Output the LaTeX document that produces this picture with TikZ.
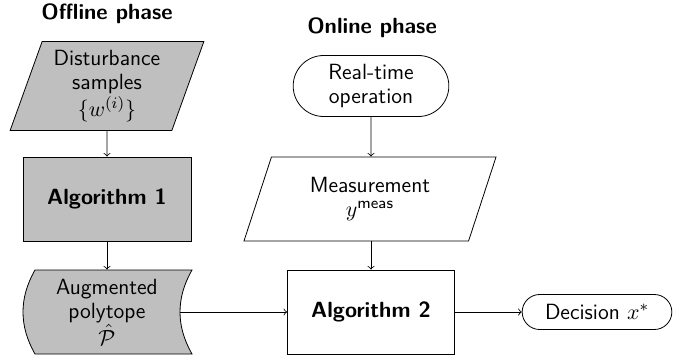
\documentclass[tikz,border=0pt]{standalone}
\usetikzlibrary{shapes.geometric,shapes.misc}
\begin{document}
\begin{tikzpicture}[x=0.5pt,y=-0.5pt,font=\sffamily\fontsize{11}{12}\selectfont,
  box/.style={draw, minimum width=84pt, minimum height=42pt, align=center, font=\sffamily\bfseries\fontsize{11}{12}\selectfont},
  io/.style={trapezium, trapezium left angle=70, trapezium right angle=110, trapezium stretches=true, draw, align=center, inner sep=1pt},
  term/.style={rounded rectangle, draw, align=center},
  title/.style={font=\sffamily\bfseries\fontsize{11}{12}\selectfont},
  arr/.style={->},
  shade/.style={fill=gray!50}]
\useasboundingbox (0,0) rectangle (699,358);
\node[title] (t1) at (107,14) {Offline phase};
\node[title] (t2) at (372,28) {Online phase};
\node[io,shade,minimum width=97pt,minimum height=44.5pt] (dist) at (107,86) {Disturbance\\samples\\$\{w^{(i)}\}$};
\node[box,shade] (alg1) at (107,199) {Algorithm 1};
\draw[shade] (35,270) -- (192,270) .. controls (176,298) and (176,326) .. (192,354) -- (35,354) .. controls (19,326) and (19,298) .. (35,270) -- cycle;
\node[minimum width=72.5pt,minimum height=42pt,align=center,inner sep=1pt] (poly) at (107,312) {Augmented\\polytope\\$\hat{\mathcal{P}}$};
\node[term,minimum width=84.5pt,minimum height=30.5pt] (rt) at (371,86) {Real-time\\operation};
\node[io,minimum width=127pt,minimum height=42pt] (meas) at (370,199) {Measurement\\$y^{\mathsf{meas}}$};
\node[box,minimum width=83.5pt] (alg2) at (371,312) {Algorithm 2};
\node[term,minimum width=81.5pt,minimum height=17.5pt] (dec) at (597,312) {Decision $x^*$};
\draw[arr] (dist) -- (alg1);
\draw[arr] (alg1) -- (poly.north);
\draw[arr] (poly.east) -- (alg2.west);
\draw[arr] (rt) -- (rt|-meas.north);
\draw[arr] (meas.south-|alg2) -- (alg2);
\draw[arr] (alg2) -- (dec);
\end{tikzpicture}
\end{document}
